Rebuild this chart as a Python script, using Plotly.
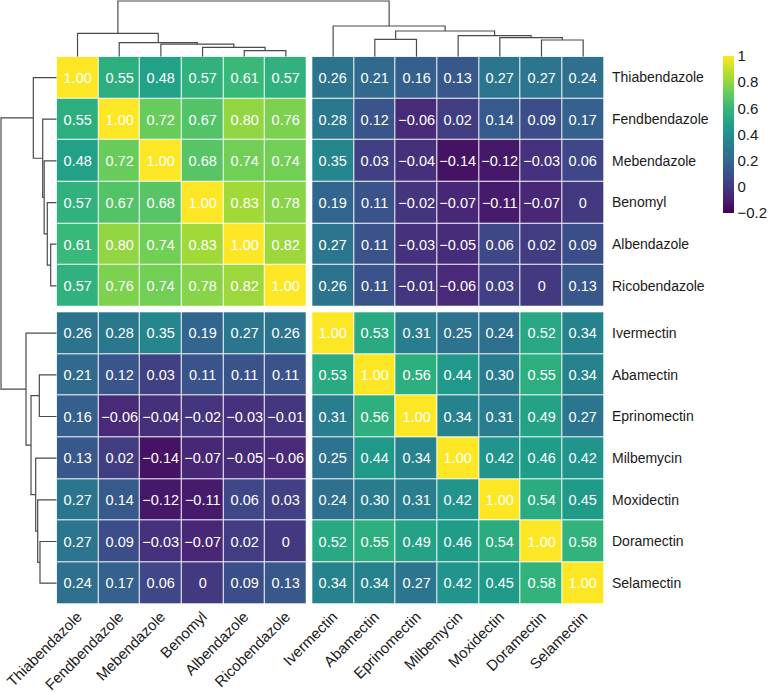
import plotly.graph_objects as go

labels = ["Thiabendazole", "Fendbendazole", "Mebendazole", "Benomyl", "Albendazole",
          "Ricobendazole", "Ivermectin", "Abamectin", "Eprinomectin", "Milbemycin",
          "Moxidectin", "Doramectin", "Selamectin"]

corr = [
    [1.00, 0.55, 0.48, 0.57, 0.61, 0.57, 0.26, 0.21, 0.16, 0.13, 0.27, 0.27, 0.24],
    [0.55, 1.00, 0.72, 0.67, 0.80, 0.76, 0.28, 0.12, -0.06, 0.02, 0.14, 0.09, 0.17],
    [0.48, 0.72, 1.00, 0.68, 0.74, 0.74, 0.35, 0.03, -0.04, -0.14, -0.12, -0.03, 0.06],
    [0.57, 0.67, 0.68, 1.00, 0.83, 0.78, 0.19, 0.11, -0.02, -0.07, -0.11, -0.07, 0.00],
    [0.61, 0.80, 0.74, 0.83, 1.00, 0.82, 0.27, 0.11, -0.03, -0.05, 0.06, 0.02, 0.09],
    [0.57, 0.76, 0.74, 0.78, 0.82, 1.00, 0.26, 0.11, -0.01, -0.06, 0.03, 0.00, 0.13],
    [0.26, 0.28, 0.35, 0.19, 0.27, 0.26, 1.00, 0.53, 0.31, 0.25, 0.24, 0.52, 0.34],
    [0.21, 0.12, 0.03, 0.11, 0.11, 0.11, 0.53, 1.00, 0.56, 0.44, 0.30, 0.55, 0.34],
    [0.16, -0.06, -0.04, -0.02, -0.03, -0.01, 0.31, 0.56, 1.00, 0.34, 0.31, 0.49, 0.27],
    [0.13, 0.02, -0.14, -0.07, -0.05, -0.06, 0.25, 0.44, 0.34, 1.00, 0.42, 0.46, 0.42],
    [0.27, 0.14, -0.12, -0.11, 0.06, 0.03, 0.24, 0.30, 0.31, 0.42, 1.00, 0.54, 0.45],
    [0.27, 0.09, -0.03, -0.07, 0.02, 0.00, 0.52, 0.55, 0.49, 0.46, 0.54, 1.00, 0.58],
    [0.24, 0.17, 0.06, 0.00, 0.09, 0.13, 0.34, 0.34, 0.27, 0.42, 0.45, 0.58, 1.00],
]

# hierarchical clustering merges (child a, child b, height); ids >= 13 are earlier merges
merges = [
    (4, 5, 0.108),
    (3, 13, 0.169),
    (2, 14, 0.225),
    (1, 15, 0.251),
    (0, 16, 0.420),
    (7, 8, 0.312),
    (11, 12, 0.300),
    (10, 19, 0.341),
    (9, 20, 0.377),
    (18, 21, 0.461),
    (6, 22, 0.551),
    (17, 23, 1.000),
]

colorbar_ticks = [-0.2, 0, 0.2, 0.4, 0.6, 0.8, 1]
colorbar_ticklabels = ["\u22120.2", "0", "0.2", "0.4", "0.6", "0.8", "1"]

W, H = 768, 692
n = len(labels)
split = 6
gap = 0.134
total = n + gap


def pos(i):
    return i + 0.5 + (gap if i >= split else 0)


def fmt(v):
    if v == 0:
        return "0"
    s = f"{v:.2f}"
    return s.replace("-", "\u2212")


def px_x(p):
    return p / W


def px_y(p):
    return 1 - p / H


hm_x0, hm_x1, hm_y0, hm_y1 = 56.7, 604.0, 56.7, 604.0

fig = go.Figure()

blocks = [(0, split), (split, n)]
first = True
for (r0, r1) in blocks:
    for (c0, c1) in blocks:
        z = [row[c0:c1] for row in corr[r0:r1]]
        txt = [[fmt(v) for v in row] for row in z]
        fig.add_trace(go.Heatmap(
            z=z, x=[pos(j) for j in range(c0, c1)], y=[pos(i) for i in range(r0, r1)],
            text=txt, texttemplate="%{text}",
            textfont=dict(color="white", size=14.5, family="Liberation Sans, Arial"),
            colorscale="Viridis", zmin=-0.2, zmax=1, xgap=1, ygap=1,
            showscale=first, hoverinfo="skip",
            colorbar=dict(
                x=722.7 / W, xanchor="left", xpad=0,
                y=px_y(56), yanchor="top", ypad=0,
                lenmode="pixels", len=157, thicknessmode="pixels", thickness=11,
                outlinewidth=0, ticks="", tickvals=colorbar_ticks,
                ticktext=colorbar_ticklabels,
                tickfont=dict(size=15, color="#1a1a1a", family="Liberation Sans, Arial"),
            ),
        ))
        first = False

# dendrogram segments
node_pos = {i: pos(i) for i in range(n)}
node_h = {i: 0.0 for i in range(n)}
seg_p, seg_h = [], []
for k, (a, b, h) in enumerate(merges):
    pa, pb = node_pos[a], node_pos[b]
    seg_p += [pa, pa, pb, pb, None]
    seg_h += [node_h[a], h, h, node_h[b], None]
    node_pos[n + k] = (pa + pb) / 2
    node_h[n + k] = h

line_style = dict(color="#4a4a4a", width=1.2)
fig.add_trace(go.Scatter(x=seg_p, y=seg_h, mode="lines", line=line_style,
                         xaxis="x", yaxis="y2", hoverinfo="skip", showlegend=False))
fig.add_trace(go.Scatter(x=seg_h, y=seg_p, mode="lines", line=line_style,
                         xaxis="x3", yaxis="y", hoverinfo="skip", showlegend=False))

hmax = hm_y0 / 55.7
font = dict(family="Liberation Sans, Arial", size=14, color="#1a1a1a")
xfont = dict(family="Liberation Sans, Arial", size=15, color="#1a1a1a")
fig.update_layout(
    width=W, height=H, margin=dict(l=0, r=0, t=0, b=0, autoexpand=False),
    paper_bgcolor="white", plot_bgcolor="white", showlegend=False, font=font,
    xaxis=dict(domain=[px_x(hm_x0), px_x(hm_x1)], range=[0, total],
               tickvals=[pos(i) for i in range(n)], ticktext=labels, tickangle=-45,
               showgrid=False, zeroline=False, ticks="", showline=False,
               anchor="y", tickfont=xfont, automargin=False),
    yaxis=dict(domain=[px_y(hm_y1), px_y(hm_y0)], range=[total, 0], side="right",
               tickvals=[pos(i) for i in range(n)], ticktext=labels,
               showgrid=False, zeroline=False, ticks="", showline=False,
               anchor="x", tickfont=font, ticklabelstandoff=7, automargin=False),
    yaxis2=dict(domain=[px_y(hm_y0), 1], range=[0, hmax], visible=False, anchor="x"),
    xaxis3=dict(domain=[0, px_x(hm_x0)], range=[hmax, 0], visible=False, anchor="y"),
)

fig.write_html("out.html", config={"displayModeBar": False},
               post_script="document.body.style.margin='0';document.body.style.overflow='hidden';")
